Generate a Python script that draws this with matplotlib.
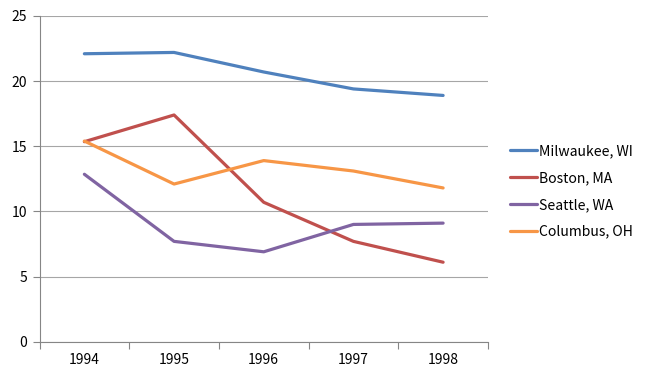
import matplotlib
matplotlib.use("Agg")
import matplotlib.pyplot as plt
import numpy as np

plt.rcParams['font.family'] = ['Noto Sans CJK KR', 'DejaVu Sans']

years = ["1994", "1995", "1996", "1997", "1998"]
milwaukee = [22.1, 22.2, 20.7, 19.4, 18.9]
boston = [15.35, 17.4, 10.7, 7.7, 6.1]
seattle = [12.85, 7.7, 6.9, 9.0, 9.1]
columbus = [15.4, 12.1, 13.9, 13.1, 11.8]

series = [
    ("Milwaukee, WI", milwaukee, "#4F81BD"),
    ("Boston, MA", boston, "#C0504D"),
    ("Seattle, WA", seattle, "#8064A2"),
    ("Columbus, OH", columbus, "#F79646"),
]

fig = plt.figure(figsize=(6.48, 3.80), dpi=100)
ax = fig.add_axes([0.061, 0.1008, 0.692, 0.8572])

x = np.arange(len(years))
for name, vals, col in series:
    ax.plot(x, vals, color=col, lw=2.3, label=name, solid_capstyle='round', solid_joinstyle='round')

ax.set_xlim(-0.5, len(years) - 0.5)
ax.set_ylim(0, 25)
ax.set_yticks(np.arange(0, 26, 5))
ax.set_xticks(x)
ax.set_xticklabels(years)
ax.set_xticks(np.arange(-0.5, len(years), 1.0), minor=True)
ax.tick_params(axis='x', which='major', length=0, pad=8, labelsize=10, colors='#000000')
ax.tick_params(axis='x', which='minor', length=5, width=0.8, color='#868686')
ax.tick_params(axis='y', which='major', length=5, width=0.8, color='#868686', labelsize=10, labelcolor='#000000', pad=4)
ax.yaxis.grid(True, color='#A6A6A6', lw=0.8)
ax.set_axisbelow(True)
for s in ['top', 'right']:
    ax.spines[s].set_visible(False)
for s in ['left', 'bottom']:
    ax.spines[s].set_color('#868686')
    ax.spines[s].set_linewidth(0.8)

leg = fig.legend(loc='upper left', bbox_to_anchor=(0.787, 0.621), frameon=False,
                 fontsize=10.1, handlelength=1.95, handletextpad=0.1, labelspacing=0.92,
                 borderaxespad=0, borderpad=0)

fig.savefig("out.png", dpi=100)
